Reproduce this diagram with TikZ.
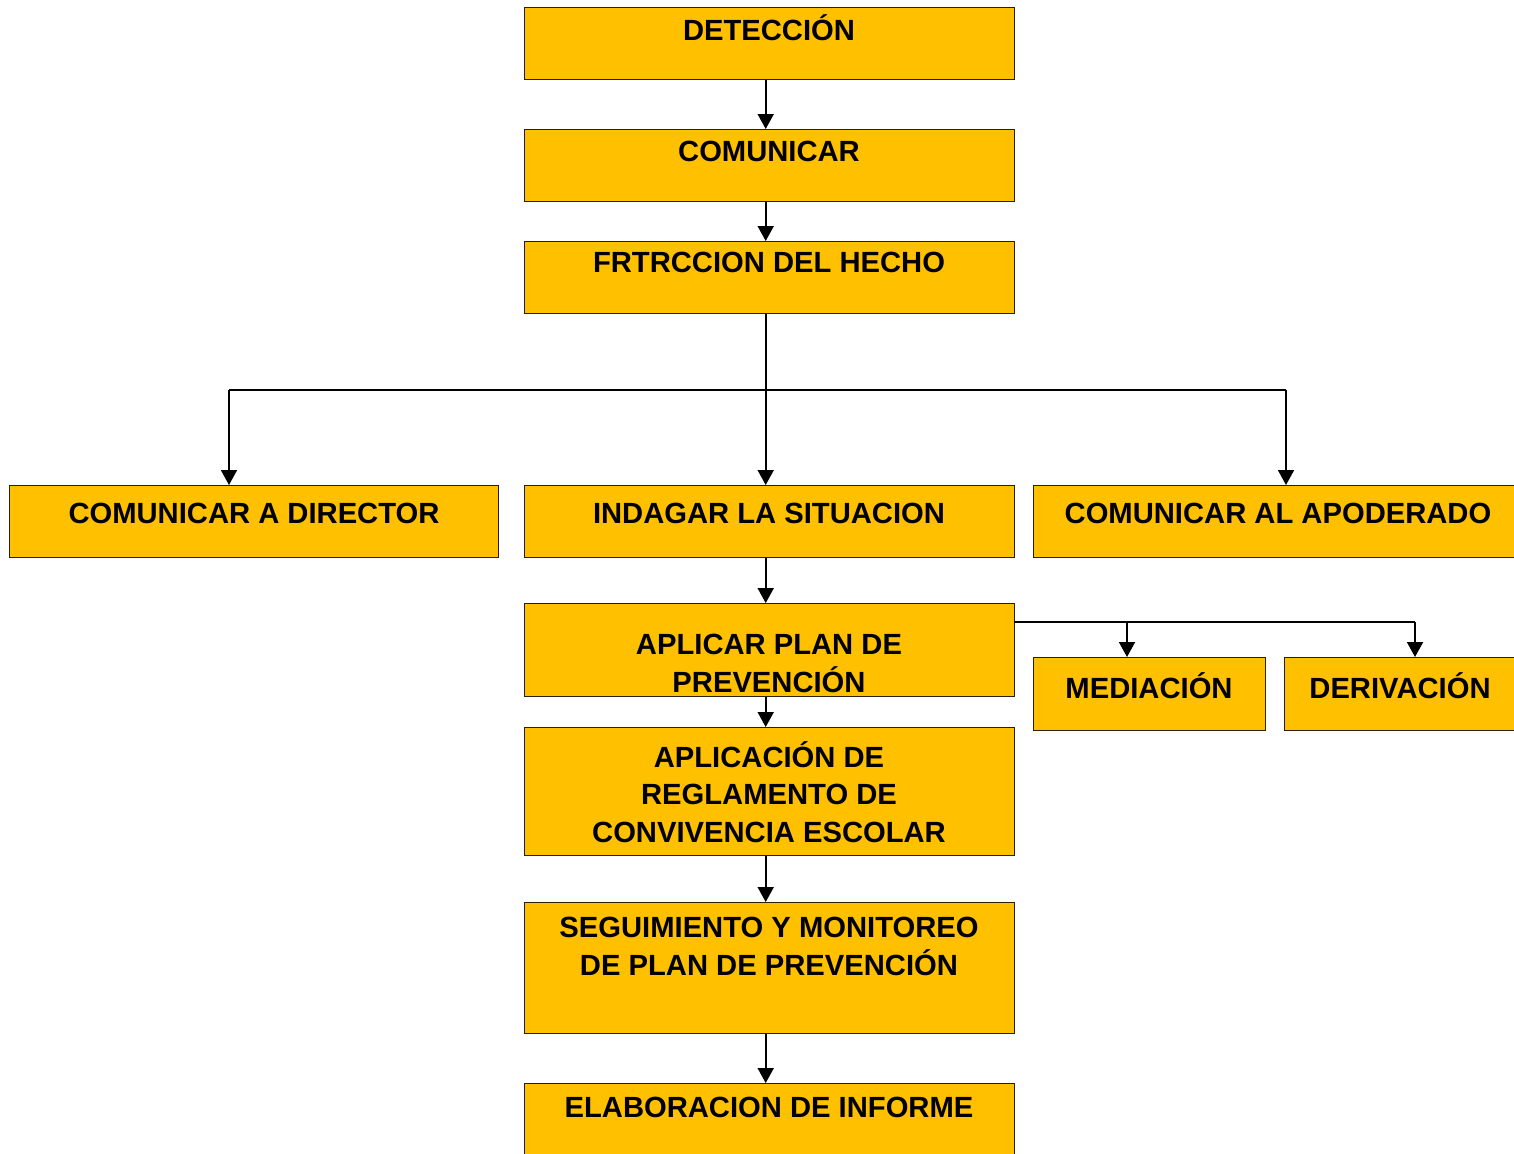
\documentclass[tikz,border=0pt]{standalone}
\usepackage{fontspec}
\setmainfont{Liberation Sans}
\usetikzlibrary{arrows.meta}
\definecolor{boxfill}{HTML}{FFC000}
\definecolor{boxline}{HTML}{2B2000}
\begin{document}
\begin{tikzpicture}[x=0.5pt,y=-0.5pt,
  box/.style={draw=boxline, fill=boxfill, line width=0.7pt, inner sep=0pt,
              anchor=north west, minimum width=245pt, minimum height=36pt},
  lbl/.style={font=\bfseries\fontsize{14.6}{18.7}\selectfont, anchor=base,
              align=center, inner sep=0pt, text=black},
  arr/.style={line width=0.9pt, -{Triangle[length=7.5pt,width=8pt]}},
  ln/.style={line width=0.9pt}]
\useasboundingbox (0,0) rectangle (1514,1153);
\clip (0,0) rectangle (1514,1153);

% boxes
\node[box] (det) at (524,7) {};
\node[box] (com) at (524,129) {};
\node[box] (frt) at (524,241) {};
\node[box, minimum width=244.5pt] (dir) at (9,485) {};
\node[box] (ind) at (524,485) {};
\node[box] (apo) at (1033,485) {};
\node[box, minimum height=46.5pt] (apl) at (524,603) {};
\node[box, minimum width=116pt, minimum height=36.5pt] (med) at (1033,657) {};
\node[box, minimum width=116pt, minimum height=36.5pt] (der) at (1284,657) {};
\node[box, minimum height=64pt] (reg) at (524,727) {};
\node[box, minimum height=65.5pt] (seg) at (524,902) {};
\node[box] (ela) at (524,1083) {};

% labels (multi-line labels are placed by the baseline of their last line)
\node[lbl] (tdet) at (769,40) {DETECCIÓN};
\node[lbl] (tcom) at (769,161) {COMUNICAR};
\node[lbl] (tfrt) at (769,272) {FRTRCCION DEL HECHO};
\node[lbl] (tdir) at (254,523) {COMUNICAR A DIRECTOR};
\node[lbl] (tind) at (769,523) {INDAGAR LA SITUACION};
\node[lbl] (tapo) at (1278,523) {COMUNICAR AL APODERADO};
\node[lbl] (tapl) at (769,692) {APLICAR PLAN DE\\PREVENCIÓN};
\node[lbl] (tmed) at (1149,698) {MEDIACIÓN};
\node[lbl] (tder) at (1400,698) {DERIVACIÓN};
\node[lbl] (treg) at (769,842) {APLICACIÓN DE\\REGLAMENTO DE\\CONVIVENCIA ESCOLAR};
\node[lbl] (tseg) at (769,975) {SEGUIMIENTO Y MONITOREO\\DE PLAN DE PREVENCIÓN};
\node[lbl] (tela) at (769,1117) {ELABORACION DE INFORME};

% main vertical flow
\draw[arr] ([xshift=-2pt]det.south) -- ([xshift=-2pt]com.north);
\draw[arr] ([xshift=-2pt]com.south) -- ([xshift=-2pt]frt.north);
\draw[arr] ([xshift=-2pt]frt.south) -- ([xshift=-2pt]ind.north);
\draw[arr] ([xshift=-2pt]ind.south) -- ([xshift=-2pt]apl.north);
\draw[arr] ([xshift=-2pt]apl.south) -- ([xshift=-2pt]reg.north);
\draw[arr] ([xshift=-2pt]reg.south) -- ([xshift=-2pt]seg.north);
\draw[arr] ([xshift=-2pt]seg.south) -- ([xshift=-2pt]ela.north);

% branch to the side boxes
\coordinate (bl) at (229,390);
\coordinate (br) at (1286,390);
\draw[ln] (bl) -- (br);
\draw[arr] (bl) -- (bl |- dir.north);
\draw[arr] (br) -- (br |- apo.north);

% branch from the prevention plan
\coordinate (pa) at (1014,622);
\coordinate (pm) at (1127,622);
\coordinate (pd) at (1415,622);
\draw[ln] (pa) -- (pd);
\draw[arr] (pm) -- (pm |- med.north);
\draw[arr] (pd) -- (pd |- der.north);
\end{tikzpicture}
\end{document}
